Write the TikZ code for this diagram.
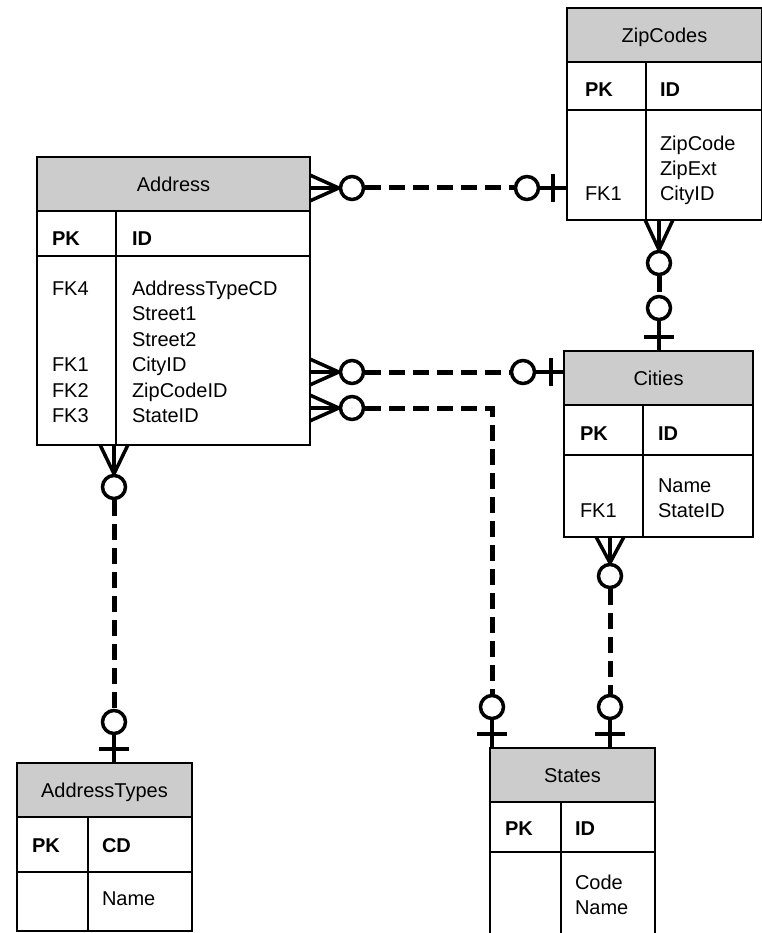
\documentclass[tikz,border=0pt]{standalone}
\usepackage{fontspec}
\setmainfont{Liberation Sans}
\usetikzlibrary{calc}
\definecolor{hdrgray}{RGB}{204,204,204}

\begin{document}
\begin{tikzpicture}[x=1pt, y=-1pt,
  every node/.style={inner sep=0pt, outer sep=0pt},
  hdr/.style={draw, line width=2pt, fill=hdrgray, anchor=north west,
              minimum height=54pt, text height=14.5pt, text depth=0pt,
              font=\fontsize{20}{25.5}\selectfont},
  tbl/.style={draw, line width=2pt, anchor=north west},
  frame/.style={line width=2pt},
  txt/.style={anchor=base west, align=left, font=\fontsize{20}{25.5}\selectfont},
  keytxt/.style={txt, font=\fontsize{20}{25.5}\selectfont\bfseries},
  ring/.style={draw, circle, line width=3.5pt, minimum size=23pt,
               fill=white, outer sep=1.75pt},
  foot/.style={line width=3.5pt},
  rel/.style={line width=5pt, dash pattern=on 16pt off 8pt}
]
\useasboundingbox (0,0) rectangle (761,933);

%--- Address ---
\node[hdr, minimum width=273pt] (addr) at (37,157) {Address};
\node[tbl, minimum width=273pt, minimum height=234pt] (addrtbl) at (37,211) {};
\draw[frame] (37,256) -- (310,256) (116,211) -- (116,445);
\node[keytxt] (addrpk) at (52,245) {PK};
\node[keytxt] (addrid) at (132,245) {ID};
% multi-line texts sit on their last baseline
\node[txt] (addrfk4) at (52,295) {FK4};
\node[txt] (addrfk) at (52,422.5) {FK1\\FK2\\FK3};
\node[txt] (addrcols) at (132,422.5) {AddressTypeCD\\Street1\\Street2\\CityID\\ZipCodeID\\StateID};

%--- ZipCodes ---
\node[hdr, minimum width=195pt] (zip) at (567,8) {ZipCodes};
\node[tbl, minimum width=195pt, minimum height=158pt] (ziptbl) at (567,62) {};
\draw[frame] (567,110) -- (762,110) (646,62) -- (646,220);
\node[keytxt] (zippk) at (585,97) {PK};
\node[keytxt] (zipid) at (660,97) {ID};
\node[txt] (zipfk) at (585,201) {FK1};
\node[txt] (zipcols) at (660,201) {ZipCode\\ZipExt\\CityID};

%--- Cities ---
\node[hdr, minimum width=189pt] (city) at (564,351) {Cities};
\node[tbl, minimum width=189pt, minimum height=132pt] (citytbl) at (564,405) {};
\draw[frame] (564,455) -- (753,455) (643,405) -- (643,537);
\node[keytxt] (citypk) at (580,440) {PK};
\node[keytxt] (cityid) at (658,440) {ID};
\node[txt] (cityfk) at (580,517.5) {FK1};
\node[txt] (citycols) at (658,517.5) {Name\\StateID};

%--- AddressTypes ---
\node[hdr, minimum width=175pt] (atype) at (17,763) {AddressTypes};
\node[tbl, minimum width=175pt, minimum height=114pt] (atypetbl) at (17,817) {};
\draw[frame] (17,872) -- (192,872) (88,817) -- (88,931);
\node[keytxt] (atypepk) at (32,852) {PK};
\node[keytxt] (atypecd) at (102,852) {CD};
\node[txt] (atypecols) at (102,905) {Name};

%--- States ---
\node[hdr, minimum width=165pt] (state) at (490,748) {States};
\node[tbl, minimum width=165pt, minimum height=140pt] (statetbl) at (490,802) {};
\draw[frame] (490,852) -- (655,852) (561,802) -- (561,942);
\node[keytxt] (statepk) at (505,835) {PK};
\node[keytxt] (stateid) at (575,835) {ID};
\node[txt] (statecols) at (575,914.5) {Code\\Name};

%--- Address >o--o| ZipCodes ---
\coordinate (zipw) at (567,188);
\node[ring] (m1) at (352,188) {};
\node[ring] (o1) at (527,188) {};
\draw[rel] (m1) -- (o1);
\draw[foot] (o1) -- (zipw);
\draw[foot] ($(zipw)+(-14,-14)$) -- ++(0,28);
\foreach \dy in {-13,0,13}
  \draw[foot] (m1.west) -- ++(-29,\dy);

%--- Address >o--o| Cities ---
\coordinate (cityw) at (564,372);
\node[ring] (m2) at (352,372) {};
\node[ring] (o2) at (523,372) {};
\draw[rel] (m2) -- (o2);
\draw[foot] (o2) -- (cityw);
\draw[foot] ($(cityw)+(-13,-14)$) -- ++(0,28);
\foreach \dy in {-13,0,13}
  \draw[foot] (m2.west) -- ++(-29,\dy);

%--- Address >o--o| States ---
\coordinate (staten1) at (492,748);
\node[ring] (m3) at (352,408) {};
\node[ring] (o3) at (492,707) {};
\draw[rel] (m3) -| (o3);
\draw[foot] (o3) -- (staten1);
\draw[foot] ($(staten1)+(-15,-14)$) -- ++(30,0);
\foreach \dy in {-13,0,13}
  \draw[foot] (m3.west) -- ++(-29,\dy);

%--- ZipCodes >o--o| Cities ---
\coordinate (cityn) at (659,351);
\node[ring] (m4) at (659,263) {};
\node[ring] (o4) at (659,308) {};
\draw[rel] (m4) -- (o4);
\draw[foot] (o4) -- (cityn);
\draw[foot] ($(cityn)+(-15,-14)$) -- ++(30,0);
\foreach \dx in {-14,0,14}
  \draw[foot] (m4.north) -- ++(\dx,-30);

%--- Cities >o--o| States ---
\coordinate (staten2) at (610,748);
\node[ring] (m5) at (610,576) {};
\node[ring] (o5) at (610,707) {};
\draw[rel] (m5) -- (o5);
\draw[foot] (o5) -- (staten2);
\draw[foot] ($(staten2)+(-15,-14)$) -- ++(30,0);
\foreach \dx in {-14,0,14}
  \draw[foot] (m5.north) -- ++(\dx,-26);

%--- Address >o--o| AddressTypes ---
\coordinate (atypen) at (114,763);
\node[ring] (m6) at (114,487) {};
\node[ring] (o6) at (114,722) {};
\draw[rel] (m6) -- (o6);
\draw[foot] (o6) -- (atypen);
\draw[foot] ($(atypen)+(-15,-14)$) -- ++(30,0);
\foreach \dx in {-14,0,14}
  \draw[foot] (m6.north) -- ++(\dx,-29);

\end{tikzpicture}
\end{document}
